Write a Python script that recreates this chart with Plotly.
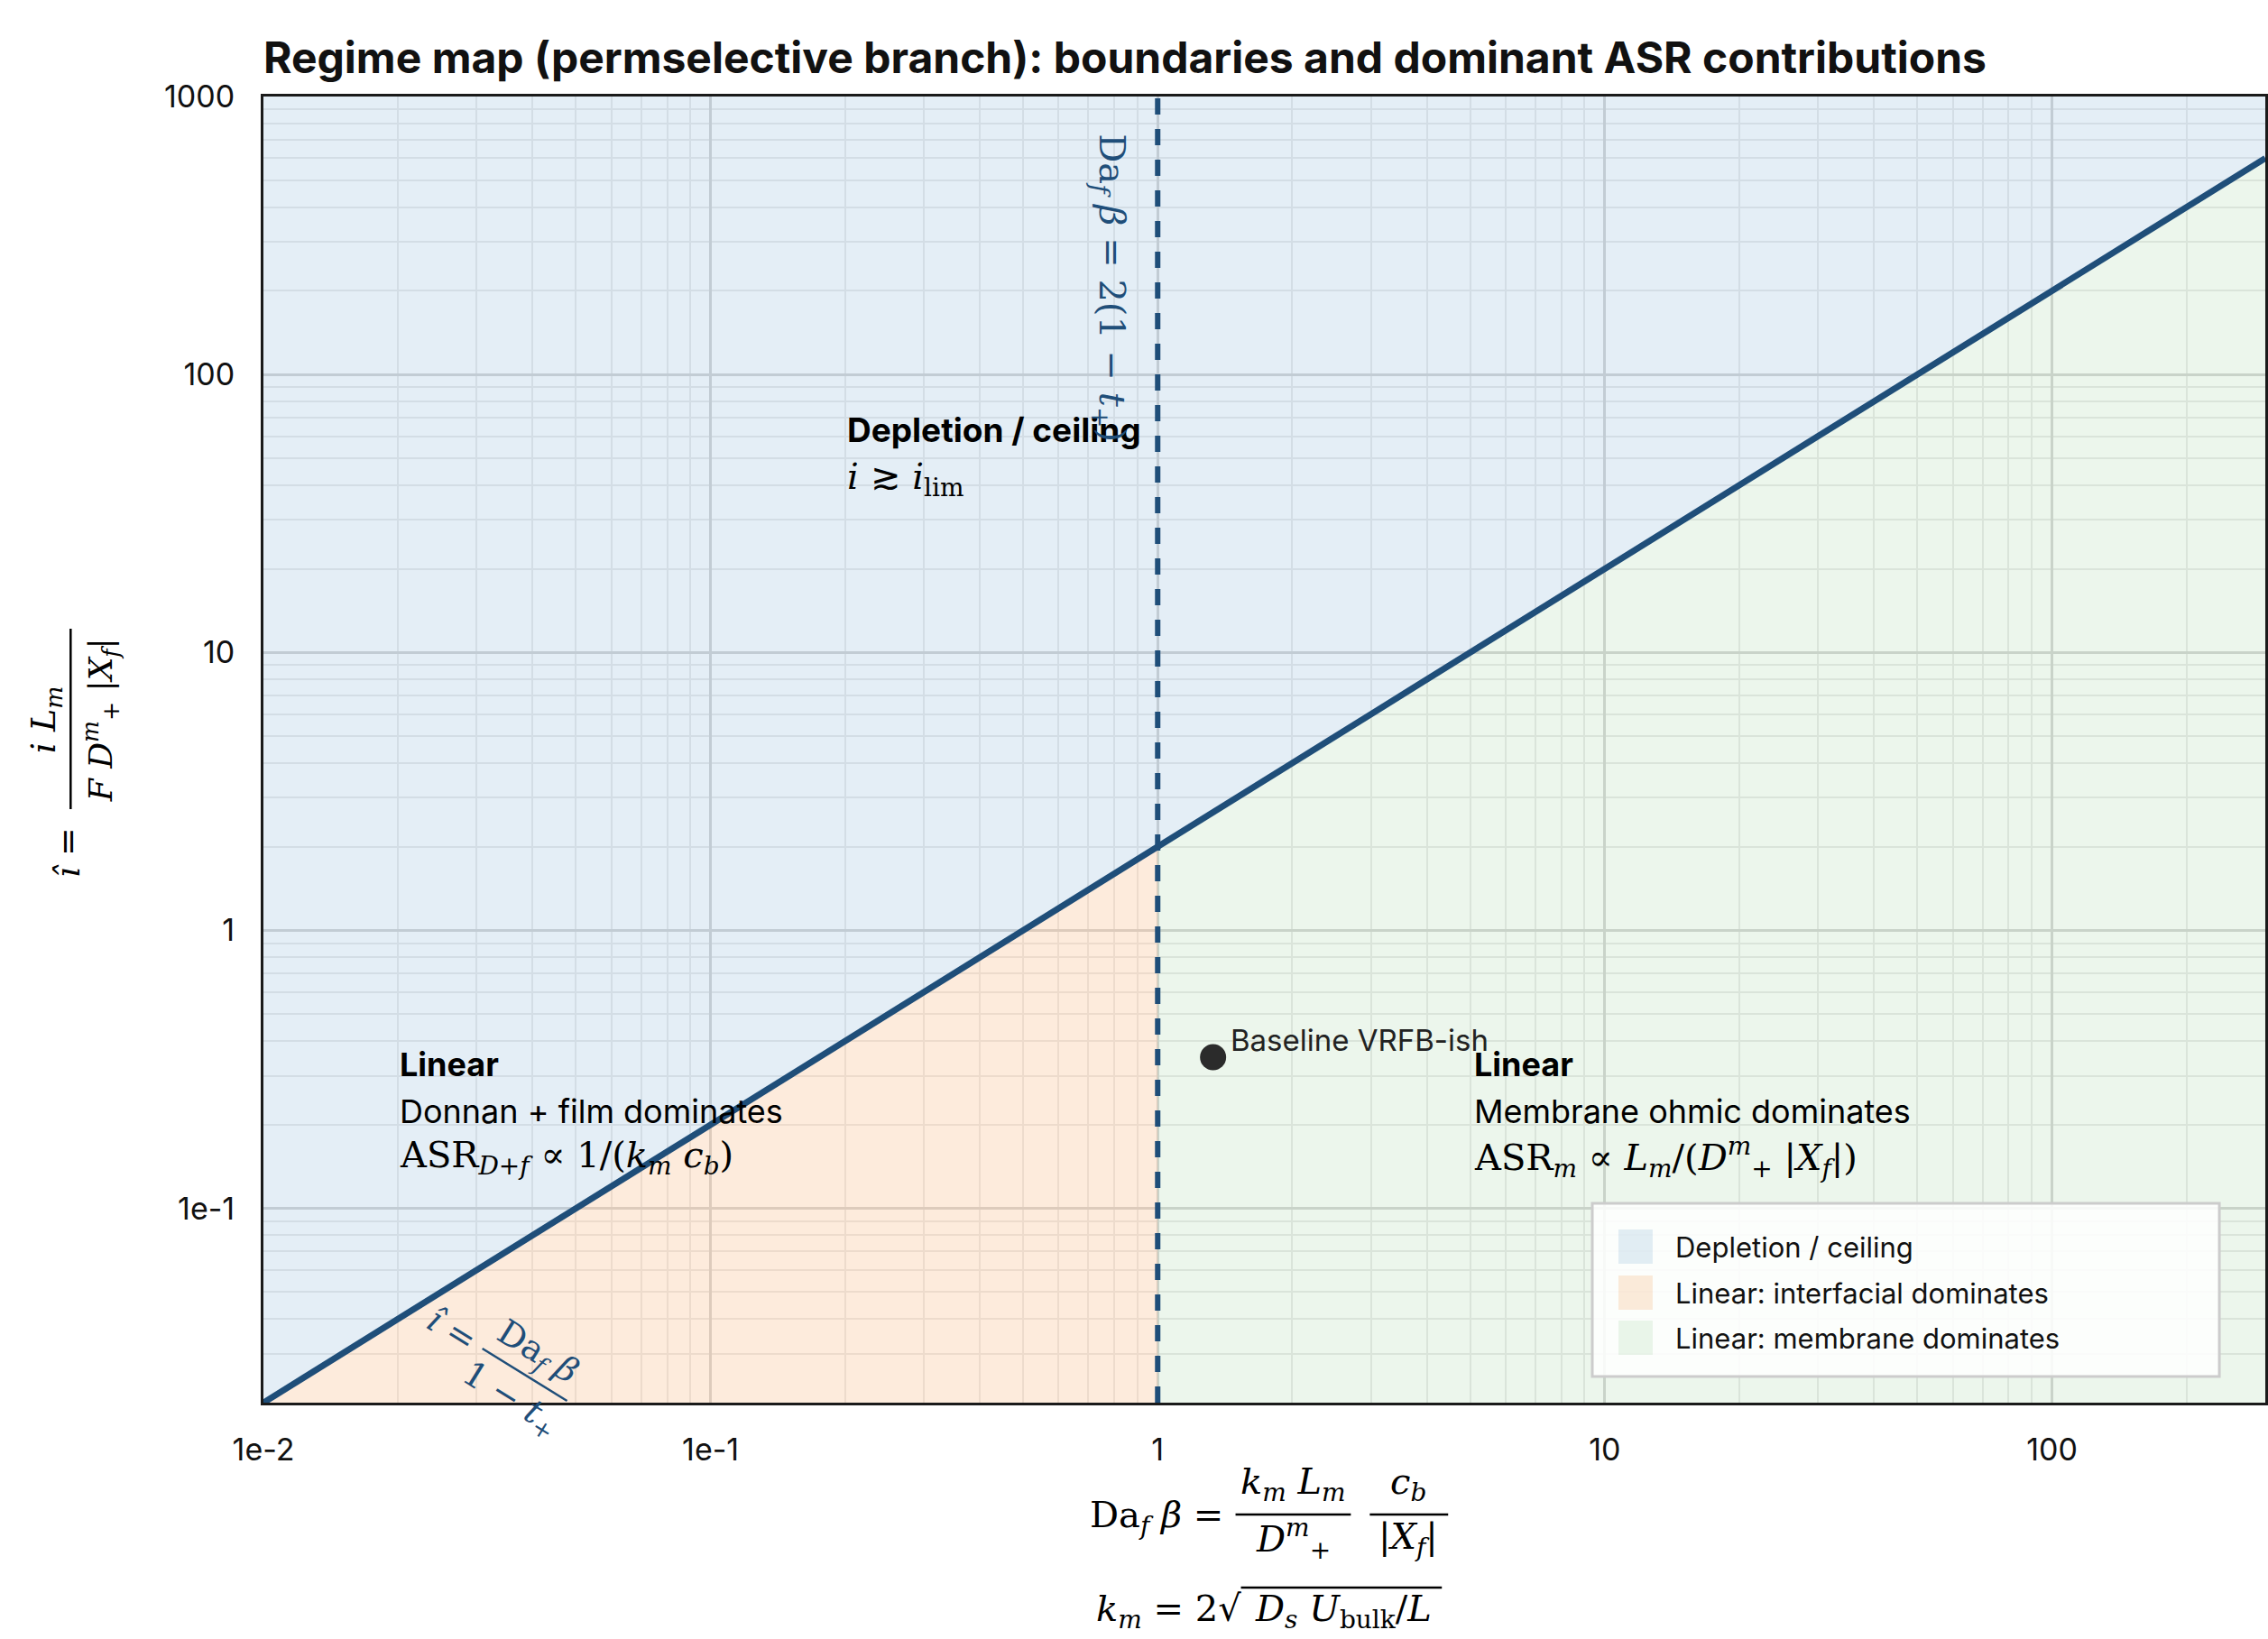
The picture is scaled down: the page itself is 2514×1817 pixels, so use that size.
import plotly.graph_objects as go
import numpy as np

# ---------------- data ----------------
x_range = [0.01, 300]          # Da_f * beta axis range
y_range = [0.02, 1000]         # i-hat axis range
t_plus = 0.5                   # transference number (boundary parameters)
baseline_x = [1.33]
baseline_y = [0.35]
baseline_label = ["Baseline VRFB-ish"]
x_tickvals = [0.01, 0.1, 1, 10, 100]
x_ticktext = ["1e-2", "1e-1", "1", "10", "100"]
y_tickvals = [0.1, 1, 10, 100, 1000]
y_ticktext = ["1e-1", "1", "10", "100", "1000"]
region_names = ["Depletion / ceiling", "Linear: interfacial dominates", "Linear: membrane dominates"]
region_colors = ["rgba(31,119,180,0.12)", "rgba(240,130,40,0.16)", "rgba(44,160,44,0.09)"]

# derived boundaries
x_crit = 2 * (1 - t_plus)                       # Da_f beta = 2(1 - t+)
def ihat(x):
    return x / (1 - t_plus)

xl, xr = x_range
yb, yt = y_range

BLUE = "#1f4e79"
MATH = "DejaVu Serif"
SANS = "Inter"

fig = go.Figure()

# Depletion region (above the boundary line)
fig.add_trace(go.Scatter(
    x=[xl, xr, xr, xl, xl], y=[ihat(xl), ihat(xr), yt, yt, ihat(xl)],
    fill="toself", fillcolor=region_colors[0], mode="lines", line=dict(width=0),
    name=region_names[0], hoverinfo="skip", showlegend=False))
# interfacial-dominated linear region
fig.add_trace(go.Scatter(
    x=[xl, x_crit, x_crit, xl], y=[ihat(xl), ihat(x_crit), yb, yb],
    fill="toself", fillcolor=region_colors[1], mode="lines", line=dict(width=0),
    name=region_names[1], hoverinfo="skip", showlegend=False))
# membrane-dominated linear region
fig.add_trace(go.Scatter(
    x=[x_crit, xr, xr, x_crit], y=[ihat(x_crit), ihat(xr), yb, yb],
    fill="toself", fillcolor=region_colors[2], mode="lines", line=dict(width=0),
    name=region_names[2], hoverinfo="skip", showlegend=False))

# boundary line i-hat = Da_f beta / (1 - t+)
fig.add_trace(go.Scatter(x=[xl, xr], y=[ihat(xl), ihat(xr)], mode="lines",
                         line=dict(color=BLUE, width=7), showlegend=False, hoverinfo="skip"))
# vertical boundary
fig.add_trace(go.Scatter(x=[x_crit, x_crit], y=[yb, yt], mode="lines",
                         line=dict(color=BLUE, width=6, dash="18px,16px"),
                         showlegend=False, hoverinfo="skip"))
# baseline point
fig.add_trace(go.Scatter(x=baseline_x, y=baseline_y, mode="markers",
                         marker=dict(size=29, color="#2b2b2b"), showlegend=False))

# ---------- layout geometry (pixels) ----------
W, H = 2514, 1817
ML, MR, MT, MB = 292, 0, 107, 262
PW, PH = W - ML - MR, H - MT - MB

def px2x(px):
    return (px - ML) / PW

def px2y(py):
    return (H - MB - py) / PH

ann = []
def A(text, px, py, size=40, color="black", family=MATH, angle=0, xanchor="center", yanchor="middle"):
    ann.append(dict(text=text, x=px2x(px), y=px2y(py), xref="paper", yref="paper",
                    showarrow=False, textangle=angle, xanchor=xanchor, yanchor=yanchor,
                    font=dict(size=size, color=color, family=family)))

def D(text, x, y, size=36, color="black", family=SANS, angle=0, xanchor="left", yanchor="middle",
      xshift=0, yshift=0):
    ann.append(dict(text=text, x=np.log10(x), y=np.log10(y), xref="x", yref="y",
                    showarrow=False, textangle=angle, xanchor=xanchor, yanchor=yanchor,
                    xshift=xshift, yshift=yshift,
                    font=dict(size=size, color=color, family=family)))

# region annotations
D("<b>Depletion / ceiling</b>", 0.2, 63, size=37)
D("<i>i</i> ≳ <i>i</i><sub>lim</sub>", 0.2, 42, size=40, family=MATH)
D("<b>Linear</b>", 0.02, 0.33, size=36)
D("Donnan + film dominates", 0.02, 0.224, size=36)
D("ASR<sub><i>D</i>+<i>f</i></sub> ∝ 1/(<i>k<sub>m</sub></i> <i>c<sub>b</sub></i>)", 0.02, 0.153, size=40, family=MATH)
D("<b>Linear</b>", 5.05, 0.33, size=36)
D("Membrane ohmic dominates", 5.05, 0.224, size=36)
D("ASR<sub><i>m</i></sub> ∝ <i>L<sub>m</sub></i>/(<i>D</i><sup><i>m</i></sup><sub>+</sub> |<i>X<sub>f</sub></i>|)", 5.05, 0.153, size=40, family=MATH)

# baseline point label
D(baseline_label[0], baseline_x[0], baseline_y[0], size=33, color="#222", xshift=17, yshift=19)

# vertical boundary label
D("Da<sub><i>f</i></sub> <i>β</i> = 2(1 − <i>t</i><sub>+</sub>)", 0.78, 205, size=40, color=BLUE,
  family=MATH, angle=90, xanchor="center")

# slanted boundary label (rotated display fraction)
ANG = 31.8
A("<i>î</i> =", 501, 1474, size=38, color=BLUE, angle=ANG)
A("Da<sub><i>f</i></sub> <i>β</i>", 596, 1500, size=38, color=BLUE, angle=ANG)
A("1 − <i>t</i><sub>+</sub>", 566, 1551, size=38, color=BLUE, angle=ANG)

# x-axis title (display-style fractions)
A("Da<sub><i>f</i></sub> <i>β</i> =", 1283, 1682, size=40)
A("<i>k<sub>m</sub></i> <i>L<sub>m</sub></i>", 1435, 1645, size=40)
A("<i>D</i><sup><i>m</i></sup><sub>+</sub>", 1435, 1706, size=40)
A("<i>c<sub>b</sub></i>", 1563, 1645, size=40)
A("|<i>X<sub>f</sub></i>|", 1563, 1706, size=40)
A("<i>k<sub>m</sub></i> = 2√", 1379, 1786, size=40, xanchor="right")
A("<i>D<sub>s</sub></i> <i>U</i><sub>bulk</sub>/<i>L</i>", 1390, 1786, size=40, xanchor="left")

# y-axis title
A("<i>î</i> =", 75, 945, size=38, angle=-90)
A("<i>i</i> <i>L<sub>m</sub></i>", 50, 798, size=38, angle=-90)
A("<i>F</i> <i>D</i><sup><i>m</i></sup><sub>+</sub> |<i>X<sub>f</sub></i>|", 112, 798, size=36, angle=-90)

def pline(x0, y0, x1, y1, color="black", width=2.5):
    return dict(type="line", xref="paper", yref="paper", x0=px2x(x0), x1=px2x(x1),
                y0=px2y(y0), y1=px2y(y1), line=dict(color=color, width=width))

shapes = [
    pline(1371, 1679, 1499, 1679),
    pline(1520, 1679, 1607, 1679),
    pline(1377, 1760, 1600, 1760),
    pline(78, 697, 78, 897),
    pline(535, 1495, 629, 1553, color=BLUE, width=2.5),
]

# custom legend (large square swatches like the reference)
LEG_L, LEG_R, LEG_T, LEG_B = 1767, 2463, 1334, 1526
shapes.append(dict(type="rect", xref="paper", yref="paper",
                   x0=px2x(LEG_L), x1=px2x(LEG_R), y0=px2y(LEG_B), y1=px2y(LEG_T),
                   fillcolor="rgba(255,255,255,0.85)", line=dict(color="#cccccc", width=3)))
row_y = [1382, 1433, 1483]
for name, col, ry in zip(region_names, region_colors, row_y):
    shapes.append(dict(type="rect", xref="paper", yref="paper",
                       x0=px2x(1796), x1=px2x(1834), y0=px2y(ry + 19), y1=px2y(ry - 19),
                       fillcolor=col, line=dict(width=0)))
    A(name, 1857, ry, size=31, color="#111", family=SANS, xanchor="left")

axis_common = dict(type="log", showline=True, linecolor="#1a1a1a", linewidth=3, mirror=True,
                   showgrid=True, gridcolor="#d9d9d9", gridwidth=2.5, zeroline=False,
                   ticks="", tickfont=dict(size=34, color="#111"),
                   minor=dict(dtick="D1", showgrid=True, gridcolor="#ececec", gridwidth=2, ticks=""))

fig.update_layout(
    width=W, height=H,
    margin=dict(l=ML, r=MR, t=MT, b=MB),
    paper_bgcolor="white", plot_bgcolor="white",
    font=dict(family=SANS, size=28, color="#111"),
    title=dict(text="<b>Regime map (permselective branch): boundaries and dominant ASR contributions</b>",
               x=ML / W, xanchor="left", y=1 - 64 / H, yanchor="middle",
               font=dict(size=48, color="#111")),
    xaxis=dict(axis_common, range=[np.log10(xl), np.log10(xr)], tickvals=x_tickvals, ticktext=x_ticktext,
               ticklabelstandoff=20),
    yaxis=dict(axis_common, range=[np.log10(yb), np.log10(yt)], tickvals=y_tickvals, ticktext=y_ticktext,
               ticklabelstandoff=22),
    annotations=ann, shapes=shapes, showlegend=False,
)

fig.write_html("out.html")
